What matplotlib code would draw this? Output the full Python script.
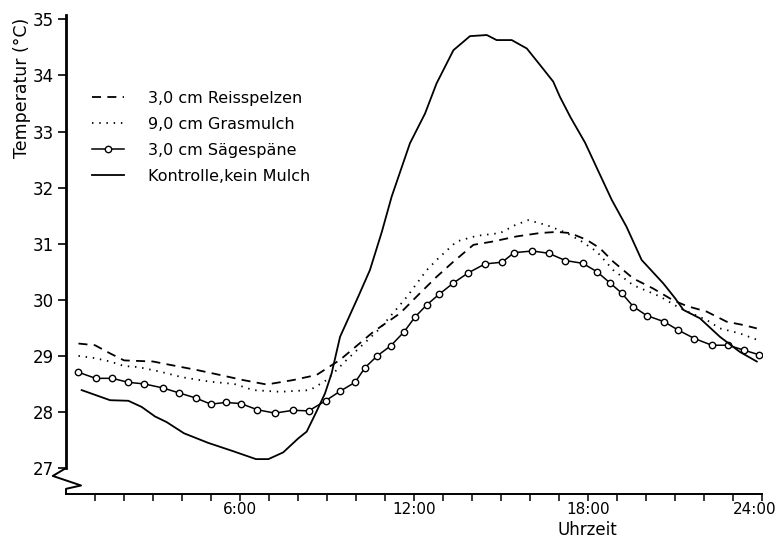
import matplotlib
matplotlib.use("Agg")
import matplotlib.pyplot as plt
import matplotlib.transforms as mtransforms
import numpy as np

plt.rcParams['font.family'] = ['DejaVu Sans']

# ---- Werte (Stunde, Temperatur) ----
h_saege = [0.42, 1.02, 1.60, 2.13, 2.70, 3.33, 3.90, 4.47, 4.99, 5.51, 6.03, 6.60,
           7.20, 7.83, 8.37, 8.95, 9.45, 9.97, 10.31, 10.73, 11.20, 11.66, 12.03,
           12.44, 12.87, 13.36, 13.87, 14.45, 15.04, 15.45, 16.08, 16.64, 17.22,
           17.82, 18.31, 18.76, 19.16, 19.56, 20.02, 20.62, 21.11, 21.67, 22.27,
           22.84, 23.39, 23.90]
t_saege = [28.71, 28.60, 28.60, 28.53, 28.50, 28.43, 28.34, 28.25, 28.14, 28.17,
           28.15, 28.04, 27.98, 28.03, 28.02, 28.20, 28.37, 28.53, 28.79, 29.00,
           29.18, 29.43, 29.69, 29.91, 30.10, 30.30, 30.48, 30.64, 30.67, 30.84,
           30.87, 30.83, 30.70, 30.65, 30.50, 30.30, 30.12, 29.88, 29.72, 29.61,
           29.46, 29.31, 29.19, 29.19, 29.10, 29.02]

h_kontrolle = [0.54, 1.52, 2.15, 2.61, 3.07, 3.47, 4.07, 4.90, 5.77, 6.55, 6.98,
               7.49, 8.01, 8.30, 8.64, 8.93, 9.16, 9.45, 10.08, 10.48, 10.89, 11.23,
               11.86, 12.38, 12.78, 13.36, 13.93, 14.51, 14.85, 15.37, 15.89, 16.34,
               16.80, 17.03, 17.40, 17.90, 18.35, 18.82, 19.33, 19.85, 20.60, 21.00,
               21.29, 21.86, 22.55, 23.24, 23.82]
t_kontrolle = [28.39, 28.21, 28.20, 28.09, 27.92, 27.82, 27.62, 27.45, 27.30, 27.16,
               27.16, 27.28, 27.53, 27.65, 28.01, 28.33, 28.69, 29.34, 30.06, 30.53,
               31.21, 31.84, 32.79, 33.32, 33.86, 34.45, 34.70, 34.72, 34.63, 34.63,
               34.48, 34.19, 33.89, 33.62, 33.25, 32.80, 32.30, 31.78, 31.30, 30.71,
               30.29, 30.03, 29.82, 29.67, 29.34, 29.07, 28.90]

h_reis = [0.43, 1.00, 1.50, 2.00, 3.00, 3.59, 4.50, 5.31, 6.10, 6.92, 7.84, 8.64,
          9.45, 10.60, 11.52, 12.21, 12.78, 13.36, 14.05, 14.73, 15.54, 16.34,
          16.92, 17.38, 17.95, 18.41, 18.87, 19.56, 20.25, 20.94, 21.40, 22.09,
          22.78, 23.36, 23.82]
t_reis = [29.22, 29.19, 29.05, 28.92, 28.90, 28.84, 28.75, 28.66, 28.57, 28.49,
          28.57, 28.66, 28.93, 29.43, 29.76, 30.12, 30.41, 30.68, 30.98, 31.04,
          31.13, 31.19, 31.21, 31.19, 31.07, 30.92, 30.68, 30.38, 30.20, 29.99,
          29.89, 29.79, 29.61, 29.55, 29.49]

h_gras = [0.43, 1.00, 1.52, 2.00, 2.50, 3.24, 4.00, 4.97, 5.80, 6.46, 7.38, 8.41,
          8.99, 9.68, 10.83, 11.75, 12.44, 12.84, 13.47, 14.16, 14.97, 15.48,
          15.94, 16.58, 17.27, 17.78, 18.30, 18.87, 19.56, 20.48, 21.17, 22.09,
          22.55, 23.24, 23.87]
t_gras = [29.00, 28.96, 28.90, 28.82, 28.80, 28.72, 28.62, 28.54, 28.50, 28.39,
          28.36, 28.39, 28.57, 28.93, 29.49, 30.05, 30.53, 30.74, 31.04, 31.14,
          31.19, 31.33, 31.42, 31.33, 31.19, 31.04, 30.86, 30.53, 30.26, 30.06,
          29.85, 29.64, 29.49, 29.40, 29.28]

y_ticks = [27, 28, 29, 30, 31, 32, 33, 34, 35]
x_major = [6, 12, 18, 24]
x_labels = ["6:00", "12:00", "18:00", "24:00"]

fig = plt.figure(figsize=(7.8, 5.42), dpi=100)
ax = fig.add_axes([66 / 780, 48 / 542, 696 / 780, 479 / 542])

ymin, ymax = 26.538, 35.077
ax.set_xlim(0, 24)
ax.set_ylim(ymin, ymax)

ax.plot(h_reis, t_reis, color='black', lw=1.3, linestyle=(0, (5, 3.5)),
        label="3,0 cm Reisspelzen")
ax.plot(h_gras, t_gras, color='black', lw=1.3, linestyle=(0, (0.8, 3.2)),
        label="9,0 cm Grasmulch")
ax.plot(h_saege, t_saege, color='black', lw=1.1, marker='o', markersize=4.6,
        markerfacecolor='white', markeredgecolor='black', markeredgewidth=1.0,
        label="3,0 cm Sägespäne")
ax.plot(h_kontrolle, t_kontrolle, color='black', lw=1.3,
        label="Kontrolle,kein Mulch")

# Achsen
for s in ['top', 'right']:
    ax.spines[s].set_visible(False)
ax.spines['left'].set_linewidth(2.0)
ax.spines['left'].set_bounds(27, ymax)
ax.spines['bottom'].set_linewidth(1.4)

ax.set_yticks(y_ticks)
ax.set_yticklabels([str(v) for v in y_ticks])
ax.set_xticks(x_major)
ax.set_xticklabels(x_labels)
ax.set_xticks([h for h in range(1, 24) if h not in x_major], minor=True)
ax.tick_params(axis='y', direction='out', length=6, width=1.2, pad=3, labelsize=12)
ax.tick_params(axis='x', which='both', direction='out', length=5, width=1.1,
               pad=1, labelsize=11)

# letzte Beschriftung etwas nach links, damit sie im Bild bleibt
last = ax.get_xticklabels()[-1]
last.set_transform(last.get_transform() +
                   mtransforms.ScaledTranslation(-5 / 72, 0, fig.dpi_scale_trans))

# Achsenbruch (Zickzack)
trans = mtransforms.blended_transform_factory(ax.transAxes, ax.transData)
ax.plot([0, -0.019, 0.0216, 0, 0], [27, 26.86, 26.69, 26.63, ymin],
        color='black', lw=1.4, transform=trans, clip_on=False)

ax.legend(loc='upper left', bbox_to_anchor=(84 / 780, 1 - 83 / 542),
          bbox_transform=fig.transFigure, frameon=False, fontsize=11.5,
          handlelength=2.0, handletextpad=1.5, labelspacing=0.68, borderpad=0)

fig.text(22 / 780, 1 - 88 / 542, "Temperatur (°C)", rotation=90, ha='center',
         va='center', fontsize=12.5)
fig.text(587 / 780, 1 - 530 / 542, "Uhrzeit", ha='center', va='center', fontsize=12)

fig.savefig("out.png", dpi=100)
